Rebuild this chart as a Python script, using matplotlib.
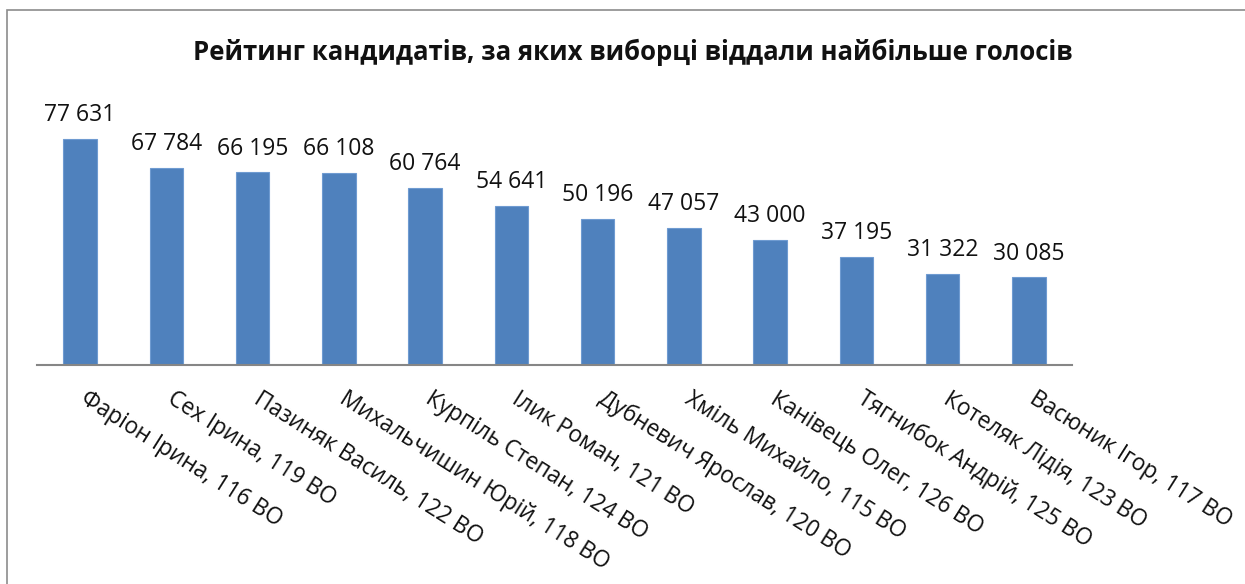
import matplotlib
matplotlib.use("Agg")
import matplotlib.pyplot as plt
from matplotlib.patches import Rectangle

categories = ["Фаріон Ірина, 116 ВО", "Сех Ірина, 119 ВО", "Пазиняк Василь, 122 ВО",
              "Михальчишин Юрій, 118 ВО", "Курпіль Степан, 124 ВО", "Ілик Роман, 121 ВО",
              "Дубневич Ярослав, 120 ВО", "Хміль Михайло, 115 ВО", "Канівець Олег, 126 ВО",
              "Тягнибок Андрій, 125 ВО", "Котеляк Лідія, 123 ВО", "Васюник Ігор, 117 ВО"]
values = [77631, 67784, 66195, 66108, 60764, 54641, 50196, 47057, 43000, 37195, 31322, 30085]
title = "Рейтинг кандидатів, за яких виборці віддали найбільше голосів"

plt.rcParams['font.family'] = ['Open Sans', 'DejaVu Sans']

W, H = 1245, 584
fig = plt.figure(figsize=(W/100, H/100), dpi=100)
fig.patches.append(Rectangle((7/W, -0.1), 1.2, 1 - 10/H + 0.1, transform=fig.transFigure,
                             fill=False, edgecolor='#8c8c8c', linewidth=1.2))

ax_left, ax_right = 37/W, 1072/W
ax_bottom = 1 - 365/H
ax_top = 1 - 103/H
ax = fig.add_axes([ax_left, ax_bottom, ax_right - ax_left, ax_top - ax_bottom])

x = list(range(len(categories)))
bars = ax.bar(x, values, width=0.39, color='#4f81bd', edgecolor='#6f9bd1', linewidth=0.8)
ax.set_xlim(-0.5, len(categories) - 0.5)
ax.set_ylim(0, 90000)

for xi, v in zip(x, values):
    ax.text(xi, v + 4000, f"{v:,}".replace(",", " "), ha='center', va='bottom', fontsize=16.5,
            color='#111111')

for s in ['top', 'right', 'left']:
    ax.spines[s].set_visible(False)
ax.spines['bottom'].set_color('#868686')
ax.spines['bottom'].set_linewidth(1.5)
ax.set_yticks([])
ax.set_xticks(x)
ax.set_xticklabels([])
ax.tick_params(axis='x', length=0)

for xi, c in zip(x, categories):
    ax.annotate(c, xy=(xi, 0), xycoords='data', xytext=(2, -23), textcoords='offset points',
                rotation=-32.3, rotation_mode='anchor', ha='left', va='center',
                fontsize=16.3, color='#111111')

fig.text(633/W, 1 - 52/H, title, ha='center', va='center', fontsize=18.5, fontweight='bold',
         color='#111111')

fig.savefig("out.png", dpi=100)
